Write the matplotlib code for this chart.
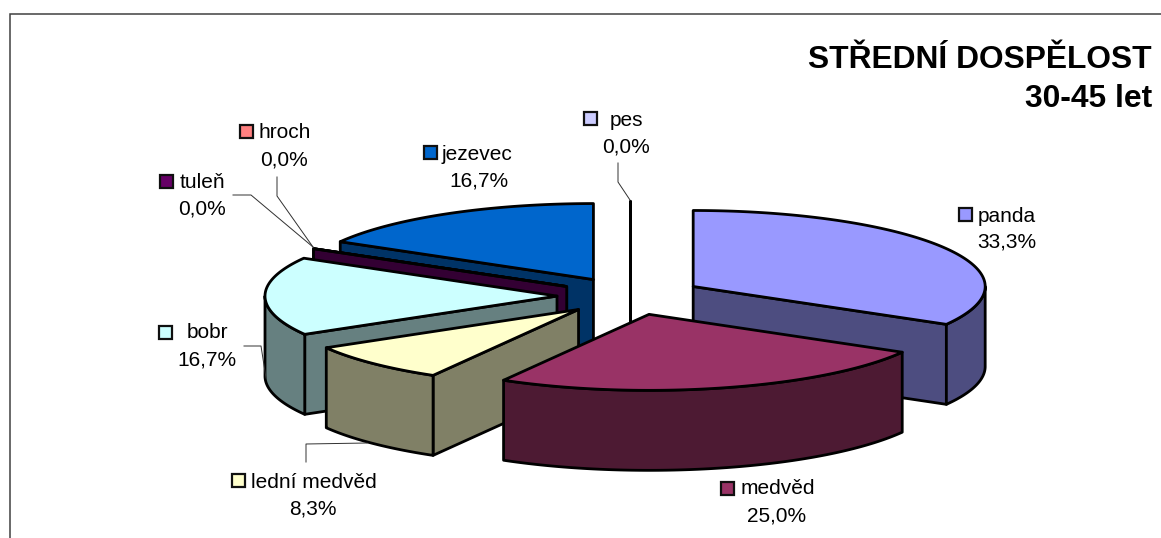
import numpy as np
import matplotlib
matplotlib.use("Agg")
import matplotlib.pyplot as plt
from matplotlib.patches import Polygon, Rectangle

# ---- data ----
names = ["panda", "medvěd", "lední medvěd", "bobr", "tuleň", "hroch", "jezevec", "pes"]
shares = [33.3, 25.0, 8.3, 16.7, 0.0, 0.0, 16.7, 0.0]
top_colors = ["#9999FF", "#993366", "#FFFFCC", "#CCFFFF", "#660066", "#FF8080", "#0066CC", "#CCCCFF"]
title_lines = ["STŘEDNÍ DOSPĚLOST", "30-45 let"]

# ---- pie geometry (pixels) ----
CX, CY, RX, RY, DEPTH, EXPLODE = 630, 296, 292, 76, 80, 0.25
paint_order = [7, 6, 5, 4, 3, 0, 2, 1]
LW = 2.0

# ---- label layout: swatch left/top, name left x/y, percent centre x/y ----
label_pos = {
    "panda": (958, 207, 978, 216, 1007, 242),
    "medvěd": (720, 481, 741, 489, 777, 516),
    "lední medvěd": (231, 473, 251, 482, 313, 509),
    "bobr": (158, 325, 187, 333, 207, 360),
    "tuleň": (159, 174, 180, 183, 202, 209),
    "hroch": (239, 124, 258, 133, 284, 160),
    "jezevec": (423, 145, 442, 154, 479, 181),
    "pes": (583, 111, 610, 120, 626, 147),
}
leaders = [
    ([618, 618, 630], [163, 182, 200]),
    ([277, 277, 313], [177, 196, 247]),
    ([233, 251, 313], [195, 195, 247]),
    ([244, 261, 266], [346, 346, 378]),
    ([306, 306, 367], [462, 444, 443]),
]

plt.rcParams["font.family"] = ["Liberation Sans", "DejaVu Sans"]
fig = plt.figure(figsize=(11.61, 5.38), dpi=100)
ax = fig.add_axes([0, 0, 1, 1])
ax.set_xlim(0, 1161)
ax.set_ylim(538, 0)
ax.axis("off")

# frame
ax.plot([10, 10, 1161], [538, 14, 14], color="#404040", lw=1.1, solid_joinstyle="miter")


def shade(c):
    r = matplotlib.colors.to_rgb(c)
    return tuple(v * 0.5 for v in r)


def rim(ax_x, ax_y, th):
    return ax_x + RX * np.sin(th), ax_y - RY * np.cos(th)


total = sum(shares)
edges = np.radians(np.concatenate([[0], np.cumsum(shares)]) / total * 360)

z = 5
for i in paint_order:
    a0, a1 = edges[i], edges[i + 1]
    mid = (a0 + a1) / 2
    ox = CX + EXPLODE * RX * np.sin(mid)
    oy = CY - EXPLODE * RY * np.cos(mid)
    side = shade(top_colors[i])
    kw = dict(edgecolor="black", lw=LW, joinstyle="round")

    faces = []
    # radial faces that point towards the viewer
    if np.sin(a1) > 1e-6:
        faces.append(a1)
    if np.sin(a0) < 1e-6 and a0 > 0:
        faces.append(a0)
    for f in faces:
        x, y = rim(ox, oy, f)
        pts = [(ox, oy), (x, y), (x, y + DEPTH), (ox, oy + DEPTH)]
        ax.add_patch(Polygon(pts, closed=True, facecolor=side, zorder=z, **kw))
        z += 1

    # outer curved face (front half of the ellipse only)
    lo, hi = max(a0, np.pi / 2), min(a1, 3 * np.pi / 2)
    if hi > lo:
        t = np.linspace(lo, hi, 120)
        x, y = rim(ox, oy, t)
        pts = np.vstack([np.c_[x, y], np.c_[x[::-1], y[::-1] + DEPTH]])
        ax.add_patch(Polygon(pts, closed=True, facecolor=side, zorder=z, **kw))
        z += 1

    # top surface
    t = np.linspace(a0, a1, 200)
    x, y = rim(ox, oy, t)
    pts = np.vstack([[ox, oy], np.c_[x, y]])
    ax.add_patch(Polygon(pts, closed=True, facecolor=top_colors[i], zorder=z, **kw))
    z += 1

# leader lines
for lx, ly in leaders:
    ax.plot(lx, ly, color="#303030", lw=0.7, zorder=z + 1)

# labels
FS = 15
for name, val, col in zip(names, shares, top_colors):
    sx, sy, nx, ny, px, py = label_pos[name]
    ax.add_patch(Rectangle((sx + 1, sy + 1), 13, 13, facecolor=col, edgecolor="#101010",
                           lw=1.6, zorder=z + 2))
    ax.text(nx, ny, name, fontsize=FS, ha="left", va="center", color="black", zorder=z + 2)
    ax.text(px, py, f"{val:.1f}".replace(".", ",") + "%", fontsize=FS, ha="center", va="center",
            color="black", zorder=z + 2)

# title
for line, y in zip(title_lines, [59, 98]):
    ax.text(1152, y + 1, line, fontsize=22.9, fontweight="bold", ha="right", va="center",
            color="black", zorder=z + 2)

fig.savefig("out.png", dpi=100)
